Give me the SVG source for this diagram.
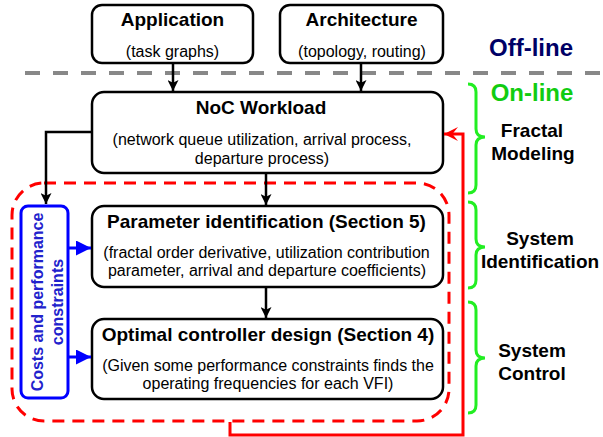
<svg xmlns="http://www.w3.org/2000/svg" width="603" height="437" viewBox="0 0 603 437">
<style>
text{font-family:"Liberation Sans",Arial,sans-serif;}
.box{fill:#fff;stroke:#000;stroke-width:2.5;}
.t{font-size:19px;font-weight:bold;text-anchor:middle;fill:#000;}
.d{font-size:16px;text-anchor:middle;fill:#000;}
.lbl{font-size:19px;font-weight:bold;text-anchor:middle;fill:#000;}
.blk{fill:none;stroke:#000;stroke-width:2.5;marker-end:url(#ab);}
.blu{fill:none;stroke:#0000ff;stroke-width:3;marker-end:url(#au);}
.brace{fill:none;stroke:#22ee22;stroke-width:3;}
</style>
<defs>
<marker id="ab" viewBox="0 0 10 10" refX="10" refY="5" markerWidth="11" markerHeight="11" markerUnits="userSpaceOnUse" orient="auto">
<path d="M0,0 L10,5 L0,10 L2.5,5 z" fill="#000"/>
</marker>
<marker id="au" viewBox="0 0 10 10" refX="10" refY="5" markerWidth="15" markerHeight="15" markerUnits="userSpaceOnUse" orient="auto">
<path d="M0,0 L10,5 L0,10 z" fill="#0000ff"/>
</marker>
<marker id="ar" viewBox="0 0 10 10" refX="10" refY="5" markerWidth="14" markerHeight="14" markerUnits="userSpaceOnUse" orient="auto">
<path d="M0,0 L10,5 L0,10 L4,5 z" fill="#ff0000"/>
</marker>
</defs>

<line x1="25" y1="73" x2="603" y2="73" stroke="#888" stroke-width="4" stroke-dasharray="15 13"/>
<text x="531" y="56" font-size="24" font-weight="bold" text-anchor="middle" fill="#000066">Off-line</text>
<text x="532" y="101" font-size="24" font-weight="bold" text-anchor="middle" fill="#11cc11">On-line</text>

<g id="application">
<rect class="box" x="92" y="5" width="161" height="58" rx="10"/>
<text class="t" x="172.5" y="26">Application</text>
<text class="d" x="172.5" y="57" font-size="15.5">(task graphs)</text>
</g>
<g id="architecture">
<rect class="box" x="280" y="5" width="163" height="58" rx="10"/>
<text class="t" x="361.5" y="26">Architecture</text>
<text class="d" x="362" y="57">(topology, routing)</text>
</g>
<g id="noc-workload">
<rect class="box" x="92" y="92" width="351" height="81" rx="12"/>
<text class="t" x="261" y="114">NoC Workload</text>
<text class="d" x="262" y="145">(network queue utilization, arrival process,</text>
<text class="d" x="262" y="164">departure process)</text>
</g>
<g id="red-loop">
<rect x="12" y="183" width="437" height="238" rx="32" fill="none" stroke="#ff0000" stroke-width="3" stroke-dasharray="12 8"/>
</g>
<g id="parameter-identification">
<rect class="box" x="92" y="206" width="351" height="81" rx="12"/>
<text class="t" x="266.5" y="228">Parameter identification (Section 5)</text>
<text class="d" x="266.5" y="258">(fractal order derivative, utilization contribution</text>
<text class="d" x="267" y="276">parameter, arrival and departure coefficients)</text>
</g>
<g id="optimal-controller">
<rect class="box" x="92" y="319" width="351" height="80" rx="12"/>
<text class="t" x="268" y="341">Optimal controller design (Section 4)</text>
<text class="d" x="268" y="371">(Given some performance constraints finds the</text>
<text class="d" x="268" y="389">operating frequencies for each VFI)</text>
</g>
<g id="constraints">
<rect x="21" y="206" width="47" height="192" rx="7" fill="#fff" stroke="#0000ff" stroke-width="3"/>
<text transform="translate(43,302) rotate(-90)" font-size="16" font-weight="bold" text-anchor="middle" fill="#2222cc">Costs and performance</text>
<text transform="translate(63,302) rotate(-90)" font-size="16" font-weight="bold" text-anchor="middle" fill="#2222cc">constraints</text>
</g>
<g id="fractal-modeling">
<path class="brace" d="M468,84 Q476,84 476,92 V129 Q476,137 485,137 Q476,137 476,145 V185 Q476,193 468,193"/>
<text class="lbl" x="532" y="137">Fractal</text>
<text class="lbl" x="533" y="160">Modeling</text>
</g>
<g id="system-identification">
<path class="brace" d="M468,202 Q476,202 476,210 V239 Q476,247 485,247 Q476,247 476,255 V280 Q476,288 468,288"/>
<text class="lbl" x="540" y="245">System</text>
<text class="lbl" x="540" y="268">Identification</text>
</g>
<g id="system-control">
<path class="brace" d="M468,302 Q476,302 476,310 V350 Q476,358 485,358 Q476,358 476,366 V405 Q476,413 468,413"/>
<text class="lbl" x="532" y="357">System</text>
<text class="lbl" x="532" y="380">Control</text>
</g>
<g id="connectors">
<line class="blk" x1="173" y1="63" x2="173" y2="91"/>
<line class="blk" x1="361" y1="63" x2="361" y2="91"/>
<line class="blk" x1="266" y1="173" x2="266" y2="205"/>
<line class="blk" x1="266" y1="287" x2="266" y2="318"/>
<path class="blk" d="M92,132 H46 V204"/>
<line class="blu" x1="68" y1="248" x2="91" y2="248"/>
<line class="blu" x1="68" y1="357" x2="91" y2="357"/>
<path d="M230,422 V435 H463 V134 H444" fill="none" stroke="#ff0000" stroke-width="3" marker-end="url(#ar)"/>
</g>
</svg>
